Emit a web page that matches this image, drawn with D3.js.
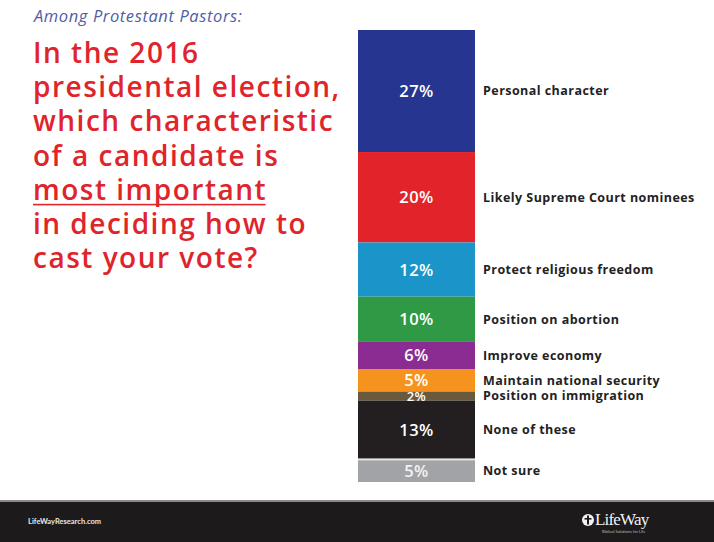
<!DOCTYPE html>
<html>
<head>
<meta charset="utf-8">
<script src="https://cdn.jsdelivr.net/npm/d3@7/dist/d3.min.js"></script>
<style>
  html, body { margin: 0; padding: 0; background: #fff; }
  svg { display: block; }
</style>
</head>
<body>
<svg id="chart" width="714" height="542"></svg>
<script>
// Survey answers, top to bottom of the stacked column
const categories = [
  "Personal character",
  "Likely Supreme Court nominees",
  "Protect religious freedom",
  "Position on abortion",
  "Improve economy",
  "Maintain national security",
  "Position on immigration",
  "None of these",
  "Not sure"
];
const values = [27, 20, 12, 10, 6, 5, 2, 13, 5];
const colors = ["#26358f", "#e2242a", "#1b95c9", "#2f9946", "#8b2c93", "#f6921e", "#6a593d", "#231f20", "#a2a3a7"];

const titleLines = [
  "In the 2016",
  "presidental election,",
  "which characteristic",
  "of a candidate is",
  "most important",
  "in deciding how to",
  "cast your vote?"
];
const underlinedLine = 4;

const svg = d3.select("#chart");
const FONT = "'Open Sans', Lato, sans-serif";

// Stack the shares into one column
let acc = 0;
const segments = values.map((v, i) => {
  const s = { name: categories[i], value: v, color: colors[i], y0: acc, y1: acc + v };
  acc += v;
  return s;
});

const y = d3.scaleLinear().domain([0, d3.sum(values)]).range([30, 482]);
const x = d3.scaleBand().domain(["all"]).range([358, 475]).padding(0);

const col = svg.append("g");
col.selectAll("rect")
  .data(segments)
  .join("rect")
  .attr("x", x("all"))
  .attr("width", x.bandwidth())
  .attr("y", d => y(d.y0))
  .attr("height", d => y(d.y1) - y(d.y0))
  .attr("fill", d => d.color);

// thin separator above the "Not sure" block
col.append("rect")
  .attr("x", x("all"))
  .attr("width", x.bandwidth())
  .attr("y", y(segments[8].y0) - 1)
  .attr("height", 2)
  .attr("fill", "#e6e6e6");

// percentage inside each segment
col.selectAll("text.pct")
  .data(segments)
  .join("text")
  .attr("class", "pct")
  .attr("x", x("all") + x.bandwidth() / 2)
  .attr("y", d => (y(d.y0) + y(d.y1)) / 2)
  .attr("dy", "0.36em")
  .attr("text-anchor", "middle")
  .attr("font-family", FONT)
  .attr("font-weight", 600)
  .attr("font-size", d => d.value < 3 ? 13 : 16.5)
  .attr("letter-spacing", 0.4)
  .attr("fill", d => d.name === "Not sure" ? "#f2f2f2" : "#fff")
  .text(d => d.value + "%");

// category labels beside the column
col.selectAll("text.lbl")
  .data(segments)
  .join("text")
  .attr("class", "lbl")
  .attr("x", 483)
  .attr("y", d => (y(d.y0) + y(d.y1)) / 2)
  .attr("dy", "0.35em")
  .attr("font-family", FONT)
  .attr("font-weight", 700)
  .attr("font-size", 12.5)
  .attr("letter-spacing", 0.45)
  .attr("fill", "#222")
  .text(d => d.name);

// heading
svg.append("text")
  .attr("x", 34).attr("y", 22)
  .attr("font-family", FONT)
  .attr("font-style", "italic")
  .attr("font-size", 16.5)
  .attr("letter-spacing", 0.6)
  .attr("fill", "#4d5ea6")
  .text("Among Protestant Pastors:");

const title = svg.append("g");
titleLines.forEach((t, i) => {
  const txt = title.append("text")
    .attr("x", 33)
    .attr("y", 63 + i * 34.2)
    .attr("font-family", FONT)
    .attr("font-weight", 600)
    .attr("font-size", 28)
    .attr("letter-spacing", 1.5)
    .attr("fill", "#e0242b")
    .text(t);
  if (i === underlinedLine) {
    const w = txt.node().getComputedTextLength();
    title.append("rect")
      .attr("x", 33).attr("y", 63 + i * 34.2 + 4)
      .attr("width", w - 1.5).attr("height", 1.6)
      .attr("fill", "#e0242b");
  }
});

// footer band
svg.append("rect").attr("x", 0).attr("y", 500).attr("width", 714).attr("height", 2).attr("fill", "#8a8a8a");
svg.append("rect").attr("x", 0).attr("y", 502).attr("width", 714).attr("height", 40).attr("fill", "#1c1a1b");
svg.append("text")
  .attr("x", 28).attr("y", 524)
  .attr("font-family", "Lato, sans-serif")
  .attr("font-weight", 700)
  .attr("font-size", 7.5)
  .attr("fill", "#e8e8e8")
  .text("LifeWayResearch.com");

const logo = svg.append("g").attr("transform", "translate(588,520)");
logo.append("circle").attr("cx", 0).attr("cy", 0).attr("r", 6).attr("fill", "#f2f2f2");
logo.append("rect").attr("x", -1).attr("y", -4.5).attr("width", 2).attr("height", 9).attr("fill", "#1c1a1b");
logo.append("rect").attr("x", -3.5).attr("y", -2).attr("width", 7).attr("height", 1.6).attr("fill", "#1c1a1b");
logo.append("text")
  .attr("x", 7).attr("y", 5)
  .attr("font-family", "'Liberation Serif', serif")
  .attr("font-size", 17)
  .attr("letter-spacing", -0.8)
  .attr("fill", "#f2f2f2")
  .text("LifeWay");
logo.append("text")
  .attr("x", 14).attr("y", 13)
  .attr("font-family", "Lato, sans-serif")
  .attr("font-size", 4)
  .attr("fill", "#bbb")
  .text("Biblical Solutions for Life");
</script>
</body>
</html>
